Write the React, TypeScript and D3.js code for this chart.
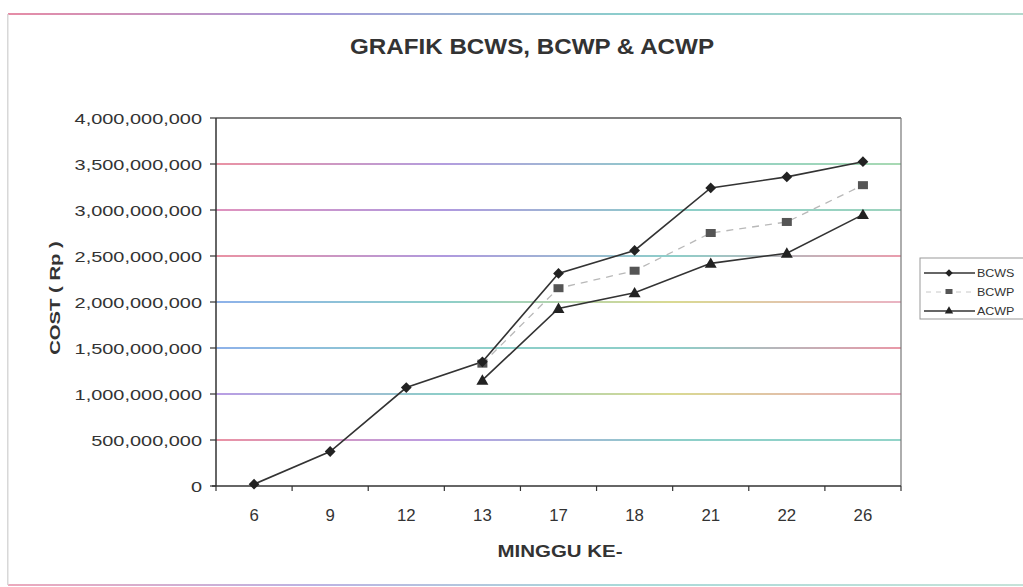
import React from "react";
import * as d3 from "d3";

const weeks = ["6", "9", "12", "13", "17", "18", "21", "22", "26"];
const bcws = [20e6, 375e6, 1.07e9, 1.35e9, 2.31e9, 2.56e9, 3.24e9, 3.36e9, 3.525e9];
const bcwp = [null, null, null, 1.33e9, 2.15e9, 2.34e9, 2.75e9, 2.87e9, 3.27e9];
const acwp = [null, null, null, 1.15e9, 1.93e9, 2.1e9, 2.42e9, 2.53e9, 2.95e9];
const yTicks = [0, 5e8, 1e9, 1.5e9, 2e9, 2.5e9, 3e9, 3.5e9, 4e9];
const seriesNames = ["BCWS", "BCWP", "ACWP"];
const title = "GRAFIK BCWS, BCWP & ACWP";
const xTitle = "MINGGU KE-";
const yTitle = "COST ( Rp )";

// scan-like gridline tints (style)
const gridGradients: string[][] = [
  ["#e0607a", "#9a70d8", "#58b8b0", "#60c0b0"],
  ["#9a70d8", "#58b8b0", "#c8c860", "#e080a0"],
  ["#5a8ee0", "#58b8b0", "#58b8b0", "#e06a80"],
  ["#5a8ee0", "#58b8b0", "#c8c860", "#e090a8"],
  ["#e0607a", "#8a6ad0", "#58b8b0", "#e07088"],
  ["#d060a0", "#8a6ad0", "#58b8b0", "#70c0a0"],
  ["#e0607a", "#9070d0", "#58b8b0", "#80c890"],
];

const FONT = "'Liberation Sans', Arial, sans-serif";
const TXT = "#333";

function SText({ x, y, sx = 1, anchor = "middle", size, weight = "normal", rotate = 0, children }: any) {
  return (
    <text
      transform={`translate(${x},${y}) rotate(${rotate}) scale(${sx},1)`}
      textAnchor={anchor}
      fontFamily={FONT}
      fontSize={size}
      fontWeight={weight}
      fill={TXT}
    >
      {children}
    </text>
  );
}

export default function App() {
  const W = 1023, H = 587;
  const left = 216, right = 901, top = 118, bottom = 486;
  const x = d3.scaleBand<string>().domain(weeks).range([left, right]).padding(0);
  const y = d3.scaleLinear().domain([0, 4e9]).range([bottom, top]);
  const cx = (i: number) => (x(weeks[i]) as number) + x.bandwidth() / 2;

  const line = d3
    .line<number | null>()
    .defined((d) => d != null)
    .x((_, i) => cx(i))
    .y((d) => y(d as number));

  const diamond = d3.symbol().type(d3.symbolSquare).size(58)() as string;
  const triangle = d3.symbol().type(d3.symbolTriangle).size(62)() as string;

  const fmt = d3.format(",");

  const Diamond = ({ px, py }: any) => (
    <path d={diamond} transform={`translate(${px},${py}) rotate(45)`} fill="#222" />
  );
  const Tri = ({ px, py }: any) => <path d={triangle} transform={`translate(${px},${py + 1})`} fill="#222" />;
  const Sq = ({ px, py }: any) => <rect x={px - 5} y={py - 4} width={10} height={8} fill="#555" />;

  const legendX = 920, legendY = 258;
  const legendRows = [273, 292, 311];

  return (
    <svg width={W} height={H} style={{ position: "absolute", left: 0, top: 0 }}>
      <defs>
        {gridGradients.map((stops, i) => (
          <linearGradient key={i} id={`g${i}`} x1="0" x2="1" y1="0" y2="0">
            {stops.map((c, j) => (
              <stop key={j} offset={j / (stops.length - 1)} stopColor={c} />
            ))}
          </linearGradient>
        ))}
        <linearGradient id="border" x1="0" x2="1" y1="0" y2="0">
          <stop offset="0" stopColor="#e07090" />
          <stop offset="0.3" stopColor="#9080d0" />
          <stop offset="0.6" stopColor="#70c0c0" />
          <stop offset="1" stopColor="#a0d0c0" />
        </linearGradient>
      </defs>
      <rect x={0} y={0} width={W} height={H} fill="#fff" />
      {/* outer border */}
      <rect x={8} y={13} width={W - 8} height={2} fill="url(#border)" opacity={0.8} />
      <rect x={8} y={584} width={W - 8} height={2} fill="url(#border)" opacity={0.6} />
      <rect x={7} y={14} width={1.5} height={571} fill="#d8d8d8" />

      {/* title */}
      <SText x={532} y={54} size={22} weight="bold" sx={1.1}>{title}</SText>

      {/* gridlines */}
      {yTicks.slice(1, -1).map((t, i) => (
        <rect key={t} x={left} y={y(t) - 0.8} width={right - left} height={1.6} fill={`url(#g${i})`} opacity={0.85} />
      ))}
      {/* plot frame */}
      <line x1={left} x2={right} y1={top} y2={top} stroke="#555" strokeWidth={1.3} />
      <line x1={right} x2={right} y1={top} y2={bottom} stroke="#777" strokeWidth={1.2} />
      <line x1={left} x2={left} y1={top} y2={bottom} stroke="#333" strokeWidth={1.5} />
      <line x1={left - 4} x2={right} y1={bottom} y2={bottom} stroke="#333" strokeWidth={1.5} />

      {/* y ticks + labels */}
      {yTicks.map((t) => (
        <g key={t}>
          <line x1={left - 6} x2={left} y1={y(t)} y2={y(t)} stroke="#333" strokeWidth={1.2} />
          <SText x={202} y={y(t) + 5.5} anchor="end" size={15} sx={1.33}>{fmt(t)}</SText>
        </g>
      ))}
      {/* x ticks + labels */}
      {weeks.map((w, i) => (
        <g key={w}>
          <line x1={x(w) as number} x2={x(w) as number} y1={bottom} y2={bottom + 5} stroke="#333" strokeWidth={1.2} />
          <SText x={cx(i)} y={521} size={16} sx={1.05}>{w}</SText>
        </g>
      ))}
      <line x1={right} x2={right} y1={bottom} y2={bottom + 5} stroke="#333" strokeWidth={1.2} />

      {/* axis titles */}
      <SText x={560} y={557} size={16} weight="bold" sx={1.28}>{xTitle}</SText>
      <SText x={60} y={298} size={15} weight="bold" sx={1.35} rotate={-90}>{yTitle}</SText>

      {/* series */}
      <path d={line(bcwp) as string} fill="none" stroke="#b8b8b8" strokeWidth={1.3} strokeDasharray="7,6" />
      <path d={line(acwp) as string} fill="none" stroke="#333" strokeWidth={1.6} />
      <path d={line(bcws) as string} fill="none" stroke="#333" strokeWidth={1.6} />
      {bcwp.map((v, i) => (v == null ? null : <Sq key={"p" + i} px={cx(i)} py={y(v)} />))}
      {acwp.map((v, i) => (v == null ? null : <Tri key={"a" + i} px={cx(i)} py={y(v)} />))}
      {bcws.map((v, i) => <Diamond key={"s" + i} px={cx(i)} py={y(v)} />)}

      {/* legend */}
      <rect x={legendX} y={legendY} width={120} height={61} fill="#fff" stroke="#999" strokeWidth={1} />
      {seriesNames.map((n, i) => {
        const ly = legendRows[i];
        const mx = 949;
        return (
          <g key={n}>
            {i === 1 ? (
              <line x1={926} x2={972} y1={ly} y2={ly} stroke="#c8c8c8" strokeWidth={1} strokeDasharray="5,5" />
            ) : (
              <line x1={924} x2={975} y1={ly} y2={ly} stroke="#333" strokeWidth={1.3} />
            )}
            {i === 0 && <path d={diamond} transform={`translate(${mx},${ly}) rotate(45) scale(0.7)`} fill="#222" />}
            {i === 1 && <rect x={mx - 3.5} y={ly - 3} width={7} height={5} fill="#555" />}
            {i === 2 && <path d={triangle} transform={`translate(${mx},${ly}) scale(0.7)`} fill="#222" />}
            <SText x={977} y={ly + 3.5} anchor="start" size={10} sx={1.25}>{n}</SText>
          </g>
        );
      })}
    </svg>
  );
}
